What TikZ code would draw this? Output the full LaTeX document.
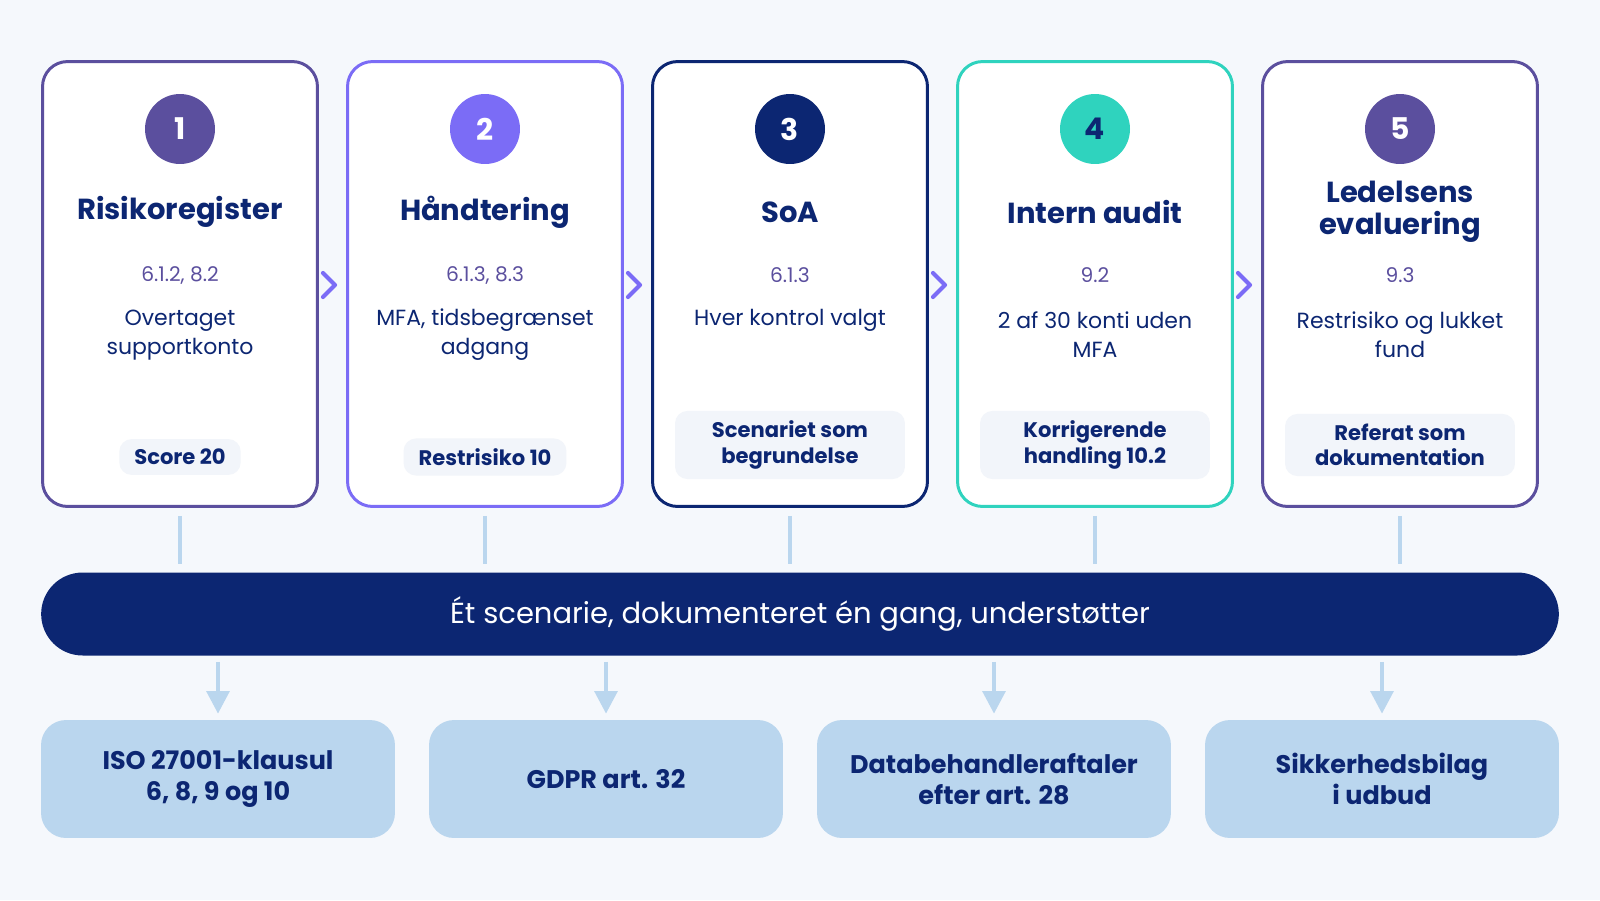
\documentclass[tikz,border=0pt]{standalone}
\usepackage{fontspec}
\setmainfont{Poppins}
\usetikzlibrary{positioning,arrows.meta}
\definecolor{bgc}{HTML}{F5F8FC}
\definecolor{navy}{HTML}{0C2672}
\definecolor{plum}{HTML}{5B4F9E}
\definecolor{violet}{HTML}{7B6CF6}
\definecolor{teal}{HTML}{2FD3BE}
\definecolor{pale}{HTML}{BAD6EE}
\definecolor{badgec}{HTML}{F2F5FA}
\tikzset{
  card/.style={draw=#1, line width=1.7pt, fill=white, rounded corners=0.5cm, minimum width=5.5cm, minimum height=8.9cm, inner sep=0pt},
  num/.style={circle, fill=#1, minimum size=1.4cm, text=white, font=\bfseries\fontsize{17}{17}\selectfont, inner sep=0pt},
  ttl/.style={text=navy, font=\bfseries\fontsize{16.5}{18}\selectfont, align=center},
  clause/.style={text=plum, font=\fontsize{11.5}{12}\selectfont},
  desc/.style={text=navy, font=\fontsize{12.5}{16.5}\selectfont, align=center},
  badge/.style={fill=badgec, rounded corners=0.25cm, text=navy, font=\bfseries\fontsize{12}{14.5}\selectfont, align=center, inner xsep=0.3cm, inner ysep=0.2cm},
  chev/.style={violet, line width=2.4pt, line cap=round, line join=round},
  stub/.style={pale, line width=2.4pt},
  down/.style={pale, line width=2.4pt, -{Triangle[width=0.45cm,length=0.45cm]}},
  target/.style={fill=pale, rounded corners=0.5cm, minimum width=7.08cm, minimum height=2.36cm, text=navy, font=\bfseries\fontsize{14.5}{18}\selectfont, align=center}
}
\begin{document}
\begin{tikzpicture}[x=0.02cm, y=-0.02cm]
  \fill[bgc] (0,0) rectangle (1600,900);                 % baggrund
  \useasboundingbox (0,0) rectangle (1600,900);
  % Trin
  \node[card=plum]   (c1) at (180,284) {};
  \node[card=violet] (c2) at (485,284) {};
  \node[card=navy]   (c3) at (790,284) {};
  \node[card=teal]   (c4) at (1095,284) {};
  \node[card=plum]   (c5) at (1400,284) {};
  % Numre
  \node[num=plum]   (n1) at (180,129) {1};
  \node[num=violet] (n2) at (485,129) {2};
  \node[num=navy]   (n3) at (790,129) {3};
  \node[num=teal, text=navy] (n4) at (1095,129) {4};
  \node[num=plum]   (n5) at (1400,129) {5};
  % Titler
  \node[ttl] (t1) at (180,212) {Risikoregister};
  \node[ttl] (t2) at (485,212) {Håndtering};
  \node[ttl] (t3) at (790,212) {SoA};
  \node[ttl] (t4) at (1095,212) {Intern audit};
  \node[ttl] (t5) at (1400,212) {Ledelsens\\evaluering};
  % Klausuler
  \node[clause] (k1) at (180,275) {6.1.2, 8.2};
  \node[clause] (k2) at (485,275) {6.1.3, 8.3};
  \node[clause] (k3) at (790,275) {6.1.3};
  \node[clause] (k4) at (1095,275) {9.2};
  \node[clause] (k5) at (1400,275) {9.3};
  % Beskrivelser
  \node[desc] (d1) at (180,335) {Overtaget\\supportkonto};
  \node[desc] (d2) at (485,335) {MFA, tidsbegrænset\\adgang};
  \node[desc] (d3) at (790,320) {Hver kontrol valgt};
  \node[desc] (d4) at (1095,335) {2 af 30 konti uden\\MFA};
  \node[desc] (d5) at (1400,335) {Restrisiko og lukket\\fund};
  % Badges
  \node[badge] (b1) at (180,457) {Score 20};
  \node[badge] (b2) at (485,457) {Restrisiko 10};
  \node[badge, minimum width=4.6cm] (b3) at (790,445) {Scenariet som\\begrundelse};
  \node[badge, minimum width=4.6cm] (b4) at (1095,445) {Korrigerende\\handling 10.2};
  \node[badge, minimum width=4.6cm] (b5) at (1400,445) {Referat som\\dokumentation};
  % Pile mellem trin
  \draw[chev] (323,273) -- (335,285) -- (323,297);
  \draw[chev] (628,273) -- (640,285) -- (628,297);
  \draw[chev] (933,273) -- (945,285) -- (933,297);
  \draw[chev] (1238,273) -- (1250,285) -- (1238,297);
  % Fælles bjælke
  \node[fill=navy, rounded corners=0.83cm, minimum width=30.36cm, minimum height=1.66cm, text=white, font=\fontsize{16.5}{16}\selectfont] (bar) at (800,614) {Ét scenarie, dokumenteret én gang, understøtter};
  \draw[stub] ([yshift=-0.16cm]c1.south) -- ([yshift=0.16cm]c1.south |- bar.north);
  \draw[stub] ([yshift=-0.16cm]c2.south) -- ([yshift=0.16cm]c2.south |- bar.north);
  \draw[stub] ([yshift=-0.16cm]c3.south) -- ([yshift=0.16cm]c3.south |- bar.north);
  \draw[stub] ([yshift=-0.16cm]c4.south) -- ([yshift=0.16cm]c4.south |- bar.north);
  \draw[stub] ([yshift=-0.16cm]c5.south) -- ([yshift=0.16cm]c5.south |- bar.north);
  % Krav
  \node[target] (r1) at (218,779) {ISO 27001-klausul\\6, 8, 9 og 10};
  \node[target] (r2) at (606,779) {GDPR art. 32};
  \node[target] (r3) at (994,779) {Databehandleraftaler\\efter art. 28};
  \node[target] (r4) at (1382,779) {Sikkerhedsbilag\\i udbud};
  \draw[down] (r1.north |- bar.south) ++(0,6) -- ([yshift=0.12cm]r1.north);
  \draw[down] (r2.north |- bar.south) ++(0,6) -- ([yshift=0.12cm]r2.north);
  \draw[down] (r3.north |- bar.south) ++(0,6) -- ([yshift=0.12cm]r3.north);
  \draw[down] (r4.north |- bar.south) ++(0,6) -- ([yshift=0.12cm]r4.north);
\end{tikzpicture}
\end{document}
